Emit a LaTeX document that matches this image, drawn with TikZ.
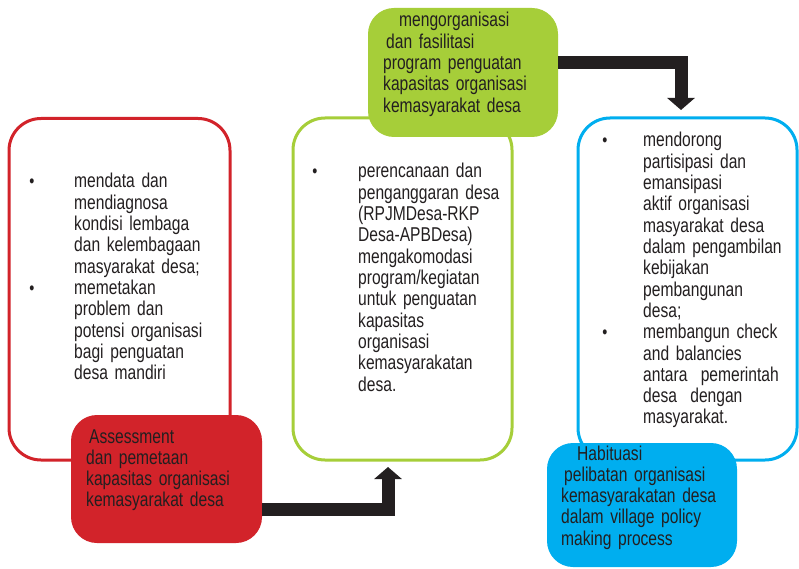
\documentclass[tikz,border=0pt]{standalone}
\usepackage{fontspec}
\setmainfont{Liberation Sans}[FakeStretch=0.78]
\usetikzlibrary{arrows.meta}
\definecolor{redc}{HTML}{D2232A}
\definecolor{greenc}{HTML}{A6CE39}
\definecolor{bluec}{HTML}{00AEEF}
\definecolor{inkc}{HTML}{231F20}
\begin{document}
\begin{tikzpicture}[x=1pt,y=-1pt,
  outlinebox/.style={draw=#1, line width=3pt, rounded corners=32pt, fill=white, inner sep=0pt, outer sep=0pt},
  fillbox/.style={fill=#1, draw=none, rounded corners=26pt, inner sep=0pt, outer sep=0pt},
  txt/.style={font=\fontsize{20}{21.3}\selectfont, text=inkc, anchor=base west, inner sep=0pt, align=left, text width=#1},
  bul/.style={font=\fontsize{18.5}{21.3}\selectfont, text=inkc, anchor=base, inner sep=0pt},
  bigarrow/.style={draw=inkc, line width=13pt, line join=miter, -{Triangle[width=27pt,length=12pt]}}
]
\fill[white] (0,0) rectangle (799,569);
\useasboundingbox (0,0) rectangle (799,569);

% outline boxes
\node[outlinebox=redc, minimum width=221pt, minimum height=341.5pt] (redOut) at (119.5,289.25) {};
\node[outlinebox=greenc, minimum width=219pt, minimum height=342pt] (greenOut) at (402.5,289) {};
\node[outlinebox=bluec, minimum width=219pt, minimum height=342pt] (blueOut) at (687.5,289) {};

% filled boxes
\node[fillbox=redc, minimum width=191pt, minimum height=128pt] (redFill) at (166.5,479) {};
\node[fillbox=greenc, minimum width=190pt, minimum height=129pt] (greenFill) at (463,72.5) {};
\node[fillbox=bluec, minimum width=190pt, minimum height=124pt] (blueFill) at (642,505) {};

% arrows
\coordinate (tipA) at (388,467);
\coordinate (tipB) at (681,110);
\draw[bigarrow] ([yshift=-30pt]redFill.east) -| (tipA);
\draw[bigarrow] ([yshift=9.5pt]greenFill.east) -| (tipB);

% left list
\node[bul] (lb1) at (32,188) {•};
\node[bul] (lb2) at (32,294.5) {•};
\node[txt=160pt] (ltext) at (74,188) {mendata dan\\mendiagnosa\\kondisi lembaga\\dan kelembagaan\\masyarakat desa;\\memetakan\\problem dan\\potensi organisasi\\bagi penguatan\\desa mandiri};

% middle list
\node[bul] (mb1) at (315,178) {•};
\node[txt=150pt] (mtext) at (358,178) {perencanaan dan\\penganggaran desa\\(RPJMDesa-RKP\\Desa-APBDesa)\\mengakomodasi\\program/kegiatan\\untuk penguatan\\kapasitas\\organisasi\\kemasyarakatan\\desa.};

% right list
\node[bul] (rb1) at (605,147) {•};
\node[bul] (rb2) at (605,338.7) {•};
\node[txt=150pt] (rtext) at (643,147) {mendorong\\partisipasi dan\\emansipasi\\aktif organisasi\\masyarakat desa\\dalam pengambilan\\kebijakan\\pembangunan\\desa;\\membangun check\\and balancies\\antara\ \ pemerintah\\desa\ \ dengan\\masyarakat.};

% filled box texts
\node[txt=180pt] (redLabel) at (86,443) {\hspace*{3pt}Assessment\\dan pemetaan\\kapasitas organisasi\\kemasyarakat desa};
\node[txt=180pt] (greenLabel) at (383,27) {\hspace*{16pt}mengorganisasi\\\hspace*{3pt}dan fasilitasi\\program penguatan\\kapasitas organisasi\\kemasyarakat desa};
\node[txt=180pt] (blueLabel) at (561,460) {\hspace*{16pt}Habituasi\\\hspace*{3pt}pelibatan organisasi\\kemasyarakatan desa\\dalam village policy\\making process};
\end{tikzpicture}
\end{document}
